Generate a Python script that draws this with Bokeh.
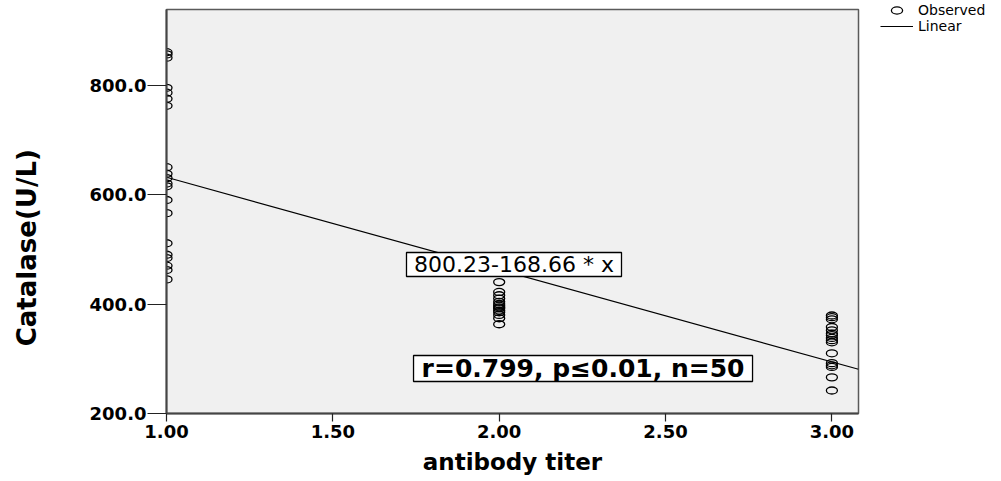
from bokeh.plotting import figure
from bokeh.models import (Label, Legend, LegendItem, Range1d, FixedTicker,
                          NumeralTickFormatter, ColumnDataSource)
from bokeh.embed import file_html
from bokeh.resources import INLINE

# ---- data ----
titer_levels = [1.0, 2.0, 3.0]
catalase_titer1 = [860, 856, 850, 795, 786, 775, 762, 650, 638, 630,
                   620, 615, 590, 566, 511, 490, 484, 470, 462, 445]
catalase_titer2 = [440, 422, 416, 410, 404, 400, 397, 394, 392, 388,
                   385, 380, 374, 363]
catalase_titer3 = [379, 376, 372, 358, 352, 346, 343, 338, 334, 330,
                   310, 292, 288, 285, 266, 242]
fit_intercept = 800.23
fit_slope = -168.66
x_ticks = [1.0, 1.5, 2.0, 2.5, 3.0]
y_ticks = [200, 400, 600, 800]
x_limits = [1.0, 3.08]
y_limits = [200, 938]
equation_text = "800.23-168.66 * x"
stats_text = "r=0.799, p\u22640.01, n=50"

groups = [catalase_titer1, catalase_titer2, catalase_titer3]
xs, ys = [], []
for lvl, vals in zip(titer_levels, groups):
    xs += [lvl] * len(vals)
    ys += vals
src = ColumnDataSource(dict(x=xs, y=ys))
line_x = list(x_limits)
line_y = [fit_intercept + fit_slope * v for v in line_x]

FONT = "DejaVu Sans"

p = figure(frame_width=692, frame_height=404, output_backend="svg", toolbar_location=None,
           x_range=Range1d(*x_limits), y_range=Range1d(*y_limits),
           min_border_left=166, min_border_right=127, min_border_top=9,
           min_border_bottom=65)
p.background_fill_color = "#f0f0f0"
p.border_fill_color = "white"
p.outline_line_color = "#5a5a5a"
p.outline_line_width = 1.5
p.grid.visible = False

r_pts = p.ellipse("x", "y", source=src, width=11, height=7, width_units="screen",
                  height_units="screen", fill_color=None, line_color="black",
                  line_width=1.3)
r_line = p.line(line_x, line_y, line_color="black", line_width=1.2)

# annotation boxes (screen-sized rectangles behind the texts)
eq_pos = (2.0445, 472.2)
st_pos = (2.252, 282.2)
p.rect(x=[eq_pos[0]], y=[eq_pos[1]], width=215, height=24, width_units="screen",
       height_units="screen", fill_color="white", line_color="black", line_width=1.3)
p.rect(x=[st_pos[0]], y=[st_pos[1]], width=339, height=26, width_units="screen",
       height_units="screen", fill_color="white", line_color="black", line_width=1.3)

eq = Label(x=eq_pos[0], y=eq_pos[1], text=equation_text, text_align="center",
           text_baseline="middle", text_font=FONT, text_font_size="22px",
           text_color="black")
p.add_layout(eq)
st = Label(x=st_pos[0], y=st_pos[1], text=stats_text, text_align="center",
           text_baseline="middle", text_font=FONT, text_font_style="bold",
           text_font_size="25px", text_color="black")
p.add_layout(st)

# axes
p.xaxis.ticker = FixedTicker(ticks=x_ticks)
p.yaxis.ticker = FixedTicker(ticks=y_ticks)
p.xaxis.formatter = NumeralTickFormatter(format="0.00")
p.yaxis.formatter = NumeralTickFormatter(format="0.0")
for ax in (p.xaxis, p.yaxis):
    ax.axis_line_color = "#444444"
    ax.axis_line_width = 2
    ax.major_tick_line_color = "#222222"
    ax.major_tick_line_width = 1.2
    ax.minor_tick_line_color = None
    ax.major_tick_in = 0
    ax.major_label_text_font = FONT
    ax.major_label_text_font_style = "bold"
    ax.major_label_text_font_size = "18px"
    ax.major_label_text_color = "black"
    ax.axis_label_text_font = FONT
    ax.axis_label_text_font_style = "bold"
    ax.axis_label_text_color = "black"
p.yaxis.major_tick_out = 19
p.yaxis.major_label_standoff = 1
p.xaxis.major_tick_out = 8
p.xaxis.major_label_standoff = 3
p.xaxis.axis_label = "antibody titer"
p.xaxis.axis_label_text_font_size = "23px"
p.xaxis.axis_label_standoff = 8
p.yaxis.axis_label = "Catalase(U/L)" + "\u00a0" * 8
p.yaxis.axis_label_text_font_size = "26px"
p.yaxis.axis_label_standoff = 45

legend = Legend(items=[LegendItem(label="Observed", renderers=[r_pts]),
                       LegendItem(label="Linear", renderers=[r_line])],
                location=(22, 379))
legend.glyph_width = 33
legend.glyph_height = 14
legend.label_height = 14
legend.spacing = 0
legend.padding = 0
legend.margin = 0
legend.label_standoff = 5
legend.label_text_font = FONT
legend.label_text_font_size = "14px"
legend.label_text_color = "black"
legend.border_line_color = None
legend.background_fill_alpha = 0
p.add_layout(legend, "right")

open("out.html", "w").write(file_html(p, INLINE))
